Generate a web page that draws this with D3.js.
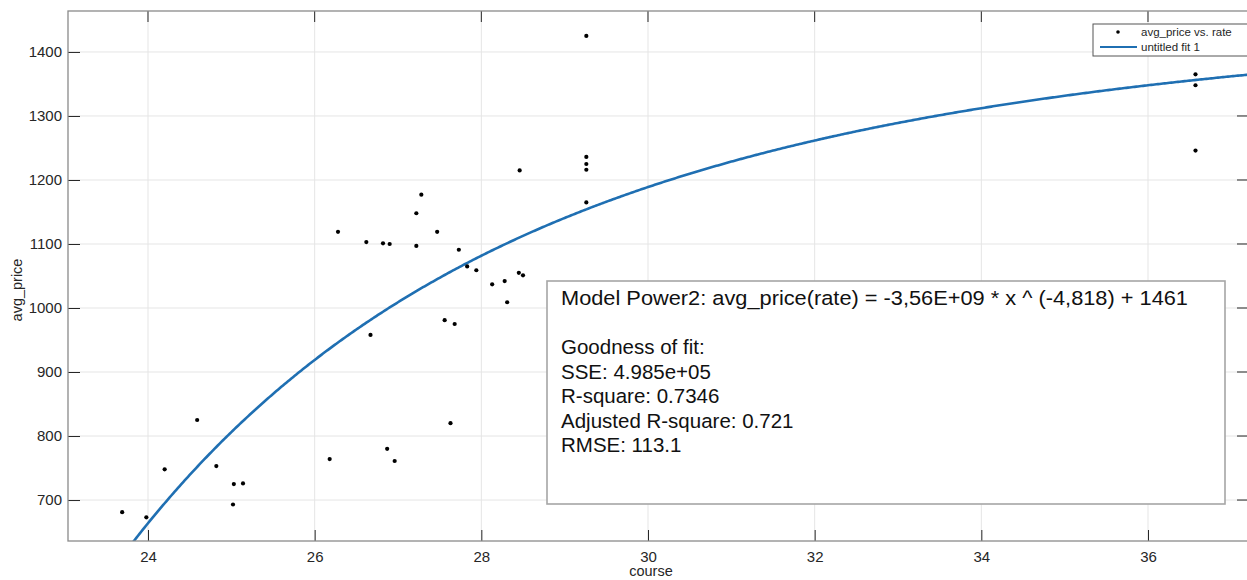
<!DOCTYPE html>
<html>
<head>
<meta charset="utf-8">
<script src="https://cdn.jsdelivr.net/npm/d3@7"></script>
<style>
  html, body { margin: 0; padding: 0; background: #fff; }
  svg { display: block; font-family: "Liberation Sans", Arial, Helvetica, sans-serif; }
</style>
</head>
<body>
<svg id="chart" width="1247" height="580"></svg>
<script>
// Observations: exchange rate ("course") vs average price
const rate = [
  23.69, 23.98, 24.20, 24.59, 24.82, 25.03, 25.14, 25.02, 26.18,
  26.28, 26.62, 26.82, 26.90, 27.22, 27.28, 27.22, 27.47, 27.73, 27.83,
  27.94, 28.13, 28.28, 28.31, 28.45, 28.50, 26.67, 27.56, 27.68, 27.63,
  26.87, 26.96,
  29.26, 29.26, 29.26, 29.26, 29.26, 28.46,
  36.57, 36.57, 36.57
];
const avgPrice = [
  681, 673, 748, 825, 753, 725, 726, 693, 764,
  1119, 1103, 1101, 1100, 1148, 1177, 1097, 1119, 1091, 1065,
  1059, 1037, 1042, 1009, 1055, 1051, 958, 981, 975, 820,
  780, 761,
  1425, 1236, 1225, 1216, 1165, 1215,
  1365, 1348, 1246
];

// Power2 model coefficients: y = a * x^b + c
const fitA = -3.56e9;
const fitB = -4.818;
const fitC = 1461;

const xTicks = [24, 26, 28, 30, 32, 34, 36];
const yTicks = [700, 800, 900, 1000, 1100, 1200, 1300, 1400];

const statsLines = [
  "Model Power2: avg_price(rate) = -3,56E+09 * x ^ (-4,818) + 1461",
  "",
  "Goodness of fit:",
  "SSE: 4.985e+05",
  "R-square: 0.7346",
  "Adjusted R-square: 0.721",
  "RMSE: 113.1"
];
const legendLabels = ["avg_price vs. rate", "untitled fit 1"];

const svg = d3.select("#chart");
const pL = 68, pR = 1248, pT = 11, pB = 541;

const x = d3.scaleLinear().domain([23.04, 37.2]).range([pL, pL + (37.2 - 23.04) * 83.333]);
const y = d3.scaleLinear().domain([636, 1464]).range([pB, pT]);

const textColor = "#262626";
const gridColor = "#e5e5e5";

// grid
const grid = svg.append("g");
grid.selectAll(".gx").data(xTicks).enter().append("line")
  .attr("x1", d => x(d)).attr("x2", d => x(d))
  .attr("y1", pT).attr("y2", pB)
  .attr("stroke", gridColor).attr("stroke-width", 1);
grid.selectAll(".gy").data(yTicks).enter().append("line")
  .attr("x1", pL).attr("x2", pR)
  .attr("y1", d => y(d)).attr("y2", d => y(d))
  .attr("stroke", gridColor).attr("stroke-width", 1);

// plot clip
svg.append("defs").append("clipPath").attr("id", "plotclip")
  .append("rect").attr("x", pL).attr("y", pT)
  .attr("width", pR - pL).attr("height", pB - pT);

// fitted curve
const curveXs = d3.range(23.0, 37.3, 0.02);
const line = d3.line()
  .x(d => x(d))
  .y(d => y(fitA * Math.pow(d, fitB) + fitC));
svg.append("path")
  .datum(curveXs)
  .attr("clip-path", "url(#plotclip)")
  .attr("d", line)
  .attr("fill", "none")
  .attr("stroke", "#1f6fb2")
  .attr("stroke-width", 2.6);

// data points
svg.append("g").selectAll("circle").data(rate).enter().append("circle")
  .attr("cx", (d) => x(d))
  .attr("cy", (d, i) => y(avgPrice[i]))
  .attr("r", 2.1)
  .attr("fill", "#000");

// axes (box with inward ticks)
const xAxisB = d3.axisBottom(x).tickValues(xTicks).tickFormat(d3.format("d"))
  .tickSizeInner(-11).tickSizeOuter(0).tickPadding(10);
const yAxisL = d3.axisLeft(y).tickValues(yTicks).tickFormat(d3.format("d"))
  .tickSizeInner(-12).tickSizeOuter(0).tickPadding(6);

const gx = svg.append("g").attr("transform", `translate(0,${pB})`).call(xAxisB);
const gy = svg.append("g").attr("transform", `translate(${pL},0)`).call(yAxisL);
[gx, gy].forEach(g => {
  g.select(".domain").remove();
  g.selectAll(".tick line").attr("stroke", textColor).attr("stroke-width", 1);
  g.selectAll(".tick text").attr("fill", textColor).attr("font-size", 15)
    .attr("font-family", "Liberation Sans, Arial, sans-serif");
});

// top and right ticks
svg.append("g").selectAll("line").data(xTicks).enter().append("line")
  .attr("x1", d => x(d)).attr("x2", d => x(d))
  .attr("y1", pT).attr("y2", pT + 11)
  .attr("stroke", textColor);
svg.append("g").selectAll("line").data(yTicks).enter().append("line")
  .attr("x1", pR).attr("x2", pR - 11)
  .attr("y1", d => y(d)).attr("y2", d => y(d))
  .attr("stroke", textColor);

// box
svg.append("rect")
  .attr("x", pL).attr("y", pT)
  .attr("width", pR - pL).attr("height", pB - pT)
  .attr("fill", "none").attr("stroke", "#8a8a8a").attr("stroke-width", 1.3);

// axis titles
svg.append("text").attr("x", 651).attr("y", 576)
  .attr("text-anchor", "middle").attr("font-size", 14.5).attr("fill", textColor)
  .text("course");
svg.append("text")
  .attr("transform", "translate(22,290) rotate(-90)")
  .attr("text-anchor", "middle").attr("font-size", 14.5).attr("fill", textColor)
  .text("avg_price");

// statistics annotation box
const boxG = svg.append("g");
boxG.append("rect")
  .attr("x", 547).attr("y", 281).attr("width", 678).attr("height", 223)
  .attr("fill", "#fff").attr("stroke", "#a6a6a6").attr("stroke-width", 1.6);
boxG.selectAll("text").data(statsLines).enter().append("text")
  .attr("x", 561)
  .attr("y", (d, i) => 305 + i * 24.5)
  .attr("font-size", 20.5)
  .attr("fill", "#111")
  .text(d => d);
boxG.select("text").attr("textLength", 627).attr("lengthAdjust", "spacingAndGlyphs");

// legend
const lg = svg.append("g");
lg.append("rect").attr("x", 1093).attr("y", 24).attr("width", 160).attr("height", 32)
  .attr("fill", "#fff").attr("stroke", "#555").attr("stroke-width", 1);
lg.append("circle").attr("cx", 1118).attr("cy", 32).attr("r", 1.8).attr("fill", "#000");
lg.append("line").attr("x1", 1100).attr("x2", 1137).attr("y1", 47).attr("y2", 47)
  .attr("stroke", "#1f6fb2").attr("stroke-width", 2.2);
lg.selectAll("text").data(legendLabels).enter().append("text")
  .attr("x", 1141).attr("y", (d, i) => 36 + i * 14.5)
  .attr("font-size", 11.5).attr("fill", textColor)
  .text(d => d);
</script>
</body>
</html>
